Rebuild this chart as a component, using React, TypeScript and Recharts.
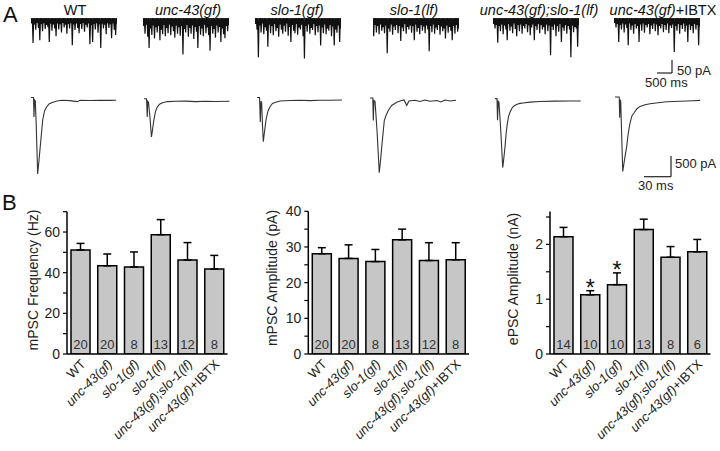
import React from 'react';
import {
  LineChart,
  Line,
  ComposedChart,
  Bar,
  ErrorBar,
  Scatter,
  LabelList,
  XAxis,
  YAxis
} from 'recharts';

const FONT = "Arial, 'Liberation Sans', Helvetica, sans-serif";

const GENOTYPES = ['WT', 'unc-43(gf)', 'slo-1(gf)', 'slo-1(lf)', 'unc-43(gf);slo-1(lf)', 'unc-43(gf)+IBTX'];

// Panel B: mPSC frequency (Hz)
const FREQ_MEAN = [51.2, 43.4, 42.8, 58.7, 46.2, 41.8];
const FREQ_SEM = [3.2, 5.8, 7.4, 7.4, 8.6, 6.7];
const FREQ_N = [20, 20, 8, 13, 12, 8];

// Panel B: mPSC amplitude (pA)
const AMP_MEAN = [28.1, 26.8, 25.9, 32.0, 26.2, 26.4];
const AMP_SEM = [1.7, 3.8, 3.4, 3.0, 5.0, 4.8];
const AMP_N = [20, 20, 8, 13, 12, 8];

// Panel B: ePSC amplitude (nA)
const EPSC_MEAN = [2.14, 1.08, 1.265, 2.27, 1.765, 1.865];
const EPSC_SEM = [0.17, 0.075, 0.215, 0.19, 0.195, 0.225];
const EPSC_N = [14, 10, 10, 13, 8, 6];
const EPSC_SIG = [false, true, true, false, false, false];

// Panel A: mPSC event depths (pA) along each 2.8 s sweep
const WT_MINI = [20, 96, 24, 45, 18, 38, 85, 22, 50, 19, 42, 26, 35, 92, 21, 48, 24, 40, 70, 20, 44, 23, 55, 18, 36, 25, 60, 22, 40, 19, 104, 24, 46, 20, 38, 58, 22, 42, 18, 52, 25, 36, 20, 100, 26, 92, 22, 44, 19, 56, 24, 115, 21, 40, 25, 62, 19, 38, 23, 77, 20, 45, 65, 22];
const UNC_MINI = [30, 60, 25, 72, 115, 40, 65, 28, 78, 35, 55, 30, 85, 45, 62, 26, 70, 38, 58, 24, 66, 32, 50, 75, 28, 60, 35, 68, 30, 140, 42, 55, 26, 72, 38, 60, 28, 80, 34, 52, 115, 30, 64, 40, 70, 25, 58, 36, 66, 125, 30, 60, 42, 75, 28, 55, 34, 92, 40, 62, 77, 30, 50, 26];
const SLOGF_MINI = [22, 45, 150, 28, 55, 20, 62, 35, 48, 110, 25, 58, 30, 66, 22, 50, 38, 72, 24, 45, 60, 28, 52, 20, 68, 34, 92, 26, 48, 58, 22, 64, 36, 44, 25, 70, 155, 30, 52, 24, 60, 38, 46, 22, 66, 30, 54, 28, 105, 36, 58, 24, 62, 40, 48, 26, 70, 32, 105, 44, 56, 28, 92, 40];
const SLOLF_MINI = [70, 26, 55, 30, 62, 24, 48, 35, 58, 28, 135, 40, 52, 24, 64, 32, 46, 26, 58, 30, 88, 36, 50, 22, 60, 34, 44, 28, 56, 30, 85, 24, 52, 38, 62, 26, 48, 32, 58, 28, 44, 127, 30, 54, 24, 60, 36, 46, 26, 64, 32, 50, 40, 78, 28, 56, 34, 48, 85, 30, 60, 26, 52, 40];
const DOUBLE_MINI = [22, 40, 26, 95, 30, 50, 24, 62, 28, 44, 85, 22, 48, 32, 58, 20, 42, 70, 26, 50, 24, 60, 30, 40, 22, 54, 28, 66, 36, 24, 85, 30, 46, 22, 58, 26, 44, 34, 62, 24, 50, 28, 143, 32, 46, 24, 70, 30, 52, 22, 92, 36, 48, 26, 60, 30, 44, 150, 28, 54, 34, 40, 110, 26];
const IBTX_MINI = [18, 36, 22, 92, 26, 44, 20, 55, 24, 38, 104, 20, 46, 28, 60, 22, 40, 30, 92, 24, 48, 20, 56, 26, 36, 22, 62, 28, 42, 20, 50, 24, 66, 30, 40, 22, 54, 26, 46, 20, 58, 28, 38, 24, 130, 30, 48, 22, 60, 26, 42, 20, 52, 28, 92, 24, 46, 30, 58, 22, 44, 26, 104, 32];

// Panel A: evoked currents, [time ms, current pA]
const WT_EVOKED = [[0, 60], [2.8, 60], [3.3, -408], [4, 0], [4.8, -24], [5.8, -600], [7.4, -1776], [8.9, -1440], [10.8, -1000], [13, -480], [15, -264], [17.4, -168], [20, -96], [23, -65], [28.6, -24], [34.4, -7], [43.3, -14], [51.4, -40], [54.4, -5], [65.5, -12], [76.7, -5], [87.8, -10], [94.4, -7]];
const UNC_EVOKED = [[0, 53], [2.8, 53], [3.6, -384], [4.2, -7], [5, -31], [6.7, -415], [8.3, -864], [9.4, -703], [10.9, -463], [12.8, -247], [14.7, -144], [17.2, -79], [20.6, -43], [26.1, -14], [35, -7], [46.1, -2], [57.2, -14], [68.3, -5], [79.4, -12], [95, -5]];
const SLOGF_EVOKED = [[0, 60], [2.8, 60], [3.7, -528], [4.4, -24], [5.2, -72], [6.1, -600], [7, -1000], [8.3, -768], [10, -480], [12.2, -264], [14.4, -161], [17.2, -84], [20, -60], [25.6, -24], [36.7, -12], [47.8, -7], [58.9, -14], [70, -5], [81.1, -7], [94.4, 0]];
const SLOLF_EVOKED = [[0, 48], [3.1, 48], [3.7, -492], [4.4, -12], [5.6, -36], [7.8, -732], [10.3, -1747], [11.7, -1452], [13, -1133], [14.8, -732], [15.9, -492], [17.8, -372], [20.3, -252], [24.1, -132], [29.7, -53], [35.2, -12], [37.8, 0], [40.8, -132], [43.3, -24], [50, -7], [55.6, -36], [61.1, 0], [66.7, -31], [74.4, -12], [78.9, -48], [83.3, 0], [88.9, -24], [95.6, -7]];
const DOUBLE_EVOKED = [[0, 58], [2.2, 58], [2.8, -463], [3.6, -7], [4.4, -31], [6.4, -703], [8.6, -1598], [9.8, -1375], [11.1, -1104], [12.4, -775], [13.7, -542], [15.1, -367], [16.7, -264], [19.4, -151], [22.2, -103], [26.7, -62], [31.1, -48], [38.9, -26], [50, -12], [66.7, -2], [83.3, 0], [95.2, 0]];
const IBTX_EVOKED = [[0, 48], [4.7, 48], [5.2, -448], [5.9, -17], [6.4, -65], [7.4, -857], [8.6, -1738], [10.6, -1457], [13, -1138], [14.8, -809], [16.7, -576], [18.9, -401], [21.1, -336], [24.4, -233], [27.8, -178], [33.3, -137], [38.9, -113], [47.8, -89], [57.4, -65], [72.2, -53], [86.7, -41], [94.4, -34]];

const MINI_TRACES = [WT_MINI, UNC_MINI, SLOGF_MINI, SLOLF_MINI, DOUBLE_MINI, IBTX_MINI];
const EVOKED_TRACES = [WT_EVOKED, UNC_EVOKED, SLOGF_EVOKED, SLOLF_EVOKED, DOUBLE_EVOKED, IBTX_EVOKED];

// layout of panel A
const MINI_LEFT = [31, 143, 255, 373, 493, 614];
const EVOKED_LEFT = [31, 143.5, 257, 370, 495, 615];
const EVOKED_BASE = [100, 100.7, 100, 99.5, 100.7, 99.3];
const COL_CENTER = [75, 188, 297, 414, 539, 663];

const renderName = (name: string) => {
  if (name === 'WT') return <tspan>WT</tspan>;
  if (name.endsWith('+IBTX')) {
    return (
      <>
        <tspan fontStyle="italic">{name.replace('+IBTX', '')}</tspan>
        <tspan>+IBTX</tspan>
      </>
    );
  }
  return <tspan fontStyle="italic">{name}</tspan>;
};

const MiniTrace = ({ depths, left }: { depths: number[]; left: number }) => {
  const data = depths.flatMap((d, k) => [
    { s: 2 * k, v: 0 },
    { s: 2 * k + 1, v: -d }
  ]);
  return (
    <div style={{ position: 'absolute', left, top: 15 }}>
      <LineChart width={86} height={45} data={data} margin={{ top: 0, right: 0, bottom: 0, left: 0 }}>
        <XAxis dataKey="s" type="number" domain={[0, data.length - 1]} hide />
        <YAxis type="number" domain={[-161, 12]} hide />
        <Line dataKey="v" type="linear" stroke="#111" strokeWidth={1.2} dot={false} isAnimationActive={false} />
      </LineChart>
    </div>
  );
};

const EvokedTrace = ({ points, left, base }: { points: number[][]; left: number; base: number }) => {
  const data = points.map(([t, i]) => ({ t, i }));
  return (
    <div style={{ position: 'absolute', left, top: base - 10 }}>
      <LineChart width={90} height={90} data={data} margin={{ top: 0, right: 0, bottom: 0, left: 0 }}>
        <XAxis dataKey="t" type="number" domain={[0, 100]} hide />
        <YAxis type="number" domain={[-1920, 240]} hide />
        <Line dataKey="i" type="linear" stroke="#333" strokeWidth={1.1} dot={false} isAnimationActive={false} />
      </LineChart>
    </div>
  );
};

const XTick = (props: any) => {
  const { x, y, payload } = props;
  return (
    <g transform={`translate(${x + 6},${y + 3})`}>
      <text x={0} y={0} transform="rotate(-45)" textAnchor="end" fontSize={13} fontFamily={FONT} fill="#222">
        {renderName(payload.value)}
      </text>
    </g>
  );
};

const makeYTick = (labelled: number[]) => (props: any) => {
  const { x, y, payload } = props;
  if (!labelled.includes(payload.value)) return <g />;
  return (
    <text x={x - 1} y={y + 5} textAnchor="end" fontSize={14} fontFamily={FONT} fill="#222">
      {payload.value}
    </text>
  );
};

const NLabel = (props: any) => {
  const { x, y, width, height, value } = props;
  return (
    <text x={x + width / 2} y={y + height - 5.5} textAnchor="middle" fontSize={13} fontFamily={FONT} fill="#333">
      {value}
    </text>
  );
};

const Asterisk = (props: any) => {
  const { cx, cy, payload } = props;
  if (payload == null || payload.sig == null) return <g />;
  return (
    <text x={cx} y={cy + 5} textAnchor="middle" fontSize={23} fontFamily={FONT} fill="#111">
      *
    </text>
  );
};

const buildRows = (mean: number[], sem: number[], n: number[], sig?: boolean[]) =>
  GENOTYPES.map((name, i) => ({
    name,
    mean: mean[i],
    err: [0, sem[i]],
    n: n[i],
    sig: sig && sig[i] ? mean[i] + sem[i] : null
  }));

interface BarPanelProps {
  left: number;
  axisX: number;
  plotTop: number;
  plotRight: number;
  domain: [number, number];
  ticks: number[];
  labelled: number[];
  rows: any[];
  withSig?: boolean;
}

const BarPanel = ({ left, axisX, plotTop, plotRight, domain, ticks, labelled, rows, withSig }: BarPanelProps) => {
  const top = 200;
  const height = 250;
  const width = 240;
  const plotBottom = 354;
  const axisStyle = { stroke: '#000', strokeWidth: 1.5 };
  return (
    <div style={{ position: 'absolute', left, top }}>
      <ComposedChart
        width={width}
        height={height}
        data={rows}
        barSize={19}
        margin={{ top: plotTop - top, right: left + width - plotRight, left: 0, bottom: 0 }}
      >
        <XAxis
          dataKey="name"
          interval={0}
          tickLine={false}
          axisLine={axisStyle}
          height={top + height - plotBottom}
          tick={<XTick />}
        />
        <YAxis
          type="number"
          domain={domain}
          ticks={ticks}
          interval={0}
          width={axisX - left}
          tickSize={4}
          tickLine={{ stroke: '#000', strokeWidth: 1.2 }}
          axisLine={axisStyle}
          tick={makeYTick(labelled)}
          allowDataOverflow
        />
        <Bar dataKey="mean" fill="#c6c6c6" stroke="#000" strokeWidth={1.5} isAnimationActive={false}>
          <ErrorBar dataKey="err" direction="y" width={4} stroke="#000" strokeWidth={1.5} isAnimationActive={false} />
          <LabelList dataKey="n" content={NLabel} />
        </Bar>
        {withSig && <Scatter dataKey="sig" shape={Asterisk} isAnimationActive={false} />}
      </ComposedChart>
    </div>
  );
};

const App = () => {
  const freqRows = buildRows(FREQ_MEAN, FREQ_SEM, FREQ_N);
  const ampRows = buildRows(AMP_MEAN, AMP_SEM, AMP_N);
  const epscRows = buildRows(EPSC_MEAN, EPSC_SEM, EPSC_N, EPSC_SIG);
  const scaleStroke = { stroke: '#222', strokeWidth: 1.2 };

  return (
    <div style={{ position: 'absolute', left: 0, top: 0, width: 720, height: 451, background: '#fff', overflow: 'hidden', fontFamily: FONT }}>
      {MINI_TRACES.map((d, i) => (
        <MiniTrace key={'m' + i} depths={d} left={MINI_LEFT[i]} />
      ))}
      {EVOKED_TRACES.map((p, i) => (
        <EvokedTrace key={'e' + i} points={p} left={EVOKED_LEFT[i]} base={EVOKED_BASE[i]} />
      ))}

      <BarPanel left={0} axisX={67} plotTop={211.7} plotRight={227.5} domain={[0, 70]}
        ticks={[0, 10, 20, 30, 40, 50, 60, 70]} labelled={[0, 20, 40, 60]} rows={freqRows} />
      <BarPanel left={240} axisX={308.3} plotTop={211.3} plotRight={469} domain={[0, 40]}
        ticks={[0, 5, 10, 15, 20, 25, 30, 35, 40]} labelled={[0, 10, 20, 30, 40]} rows={ampRows} />
      <BarPanel left={480} axisX={550} plotTop={211.5} plotRight={710.5} domain={[0, 2.6]}
        ticks={[0, 0.5, 1, 1.5, 2, 2.5]} labelled={[0, 1, 2]} rows={epscRows} withSig />

      <svg width={720} height={451} style={{ position: 'absolute', left: 0, top: 0, pointerEvents: 'none' }}>
        <text x={3} y={22} fontSize={22} fontFamily={FONT} fill="#111">A</text>
        <text x={2} y={210} fontSize={22} fontFamily={FONT} fill="#111">B</text>
        {GENOTYPES.map((g, i) => (
          <text key={g} x={COL_CENTER[i]} y={14.5} textAnchor="middle" fontSize={14.5} fontFamily={FONT} fill="#111">
            {renderName(g)}
          </text>
        ))}

        <text transform="rotate(-90, 37.5, 280)" x={37.5} y={280} textAnchor="middle" fontSize={14} fontFamily={FONT} fill="#222">mPSC Frequency (Hz)</text>
        <text transform="rotate(-90, 276.7, 278)" x={276.7} y={278} textAnchor="middle" fontSize={14} fontFamily={FONT} fill="#222">mPSC Amplitude (pA)</text>
        <text transform="rotate(-90, 517.7, 279)" x={517.7} y={279} textAnchor="middle" fontSize={14} fontFamily={FONT} fill="#222">ePSC Amplitude (nA)</text>

        <line x1={657} y1={73} x2={672} y2={73} {...scaleStroke} />
        <line x1={672} y1={60} x2={672} y2={73} {...scaleStroke} />
        <text x={677} y={75} fontSize={13} fontFamily={FONT} fill="#222">50 pA</text>
        <text x={645} y={87} fontSize={13} fontFamily={FONT} fill="#222">500 ms</text>

        <line x1={644} y1={176.7} x2={671} y2={176.7} {...scaleStroke} />
        <line x1={671} y1={156} x2={671} y2={176.7} {...scaleStroke} />
        <text x={675} y={168} fontSize={13} fontFamily={FONT} fill="#222">500 pA</text>
        <text x={638} y={190} fontSize={13} fontFamily={FONT} fill="#222">30 ms</text>
      </svg>
    </div>
  );
};

export default App;
